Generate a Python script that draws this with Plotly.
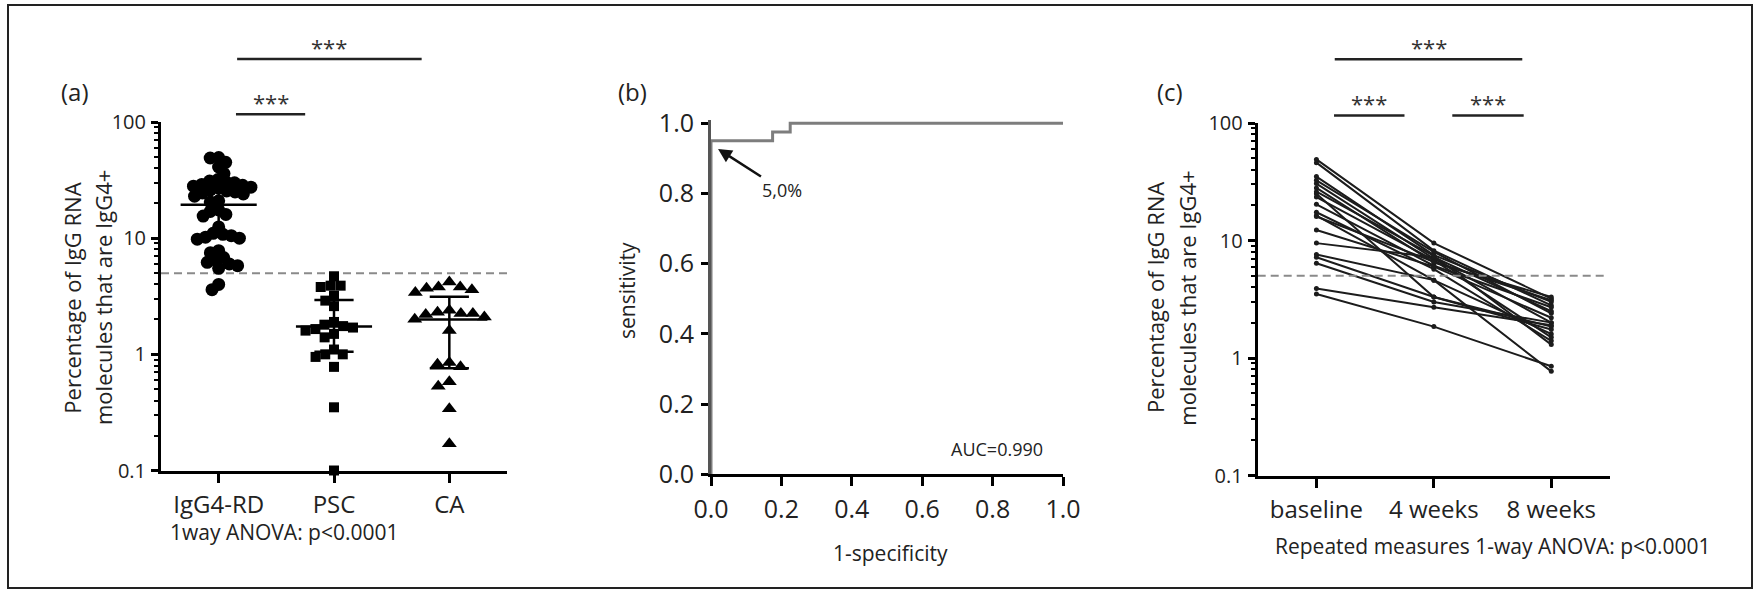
import math
import plotly.graph_objects as go

W, H = 1758, 590

# ---------------- data ----------------
groups_a = ["IgG4-RD", "PSC", "CA"]
igg4_rd = [49.5, 49, 45, 41, 36, 32, 31, 30.5, 30, 29, 28.5, 28, 27.5, 27, 26,
           25.5, 25, 24.5, 24, 23, 21, 20.5, 17.5, 17, 16, 15.5, 12.5, 11,
           10.8, 10.5, 10.2, 10, 9.8, 7.8, 7.5, 6.8, 6.5, 6.2, 6, 5.8, 5.5, 4.0, 3.6]
psc = [4.7, 3.9, 3.8, 3.9, 3.2, 2.9, 2.6, 1.9, 1.8, 1.75, 1.7, 1.65, 1.6, 1.5,
       1.4, 1.1, 1.0, 1.0, 0.95, 0.78, 0.35, 0.1]
ca = [4.2, 3.6, 3.8, 3.7, 3.8, 3.4, 2.3, 2.25, 2.1, 2.4, 2.0, 2.2, 2.25, 1.6,
      0.78, 0.85, 0.82, 0.58, 0.53, 0.34, 0.17]
medians_a = [19.4, 1.74, 1.99]
q1_a = [10.3, 1.05, 0.76]
q3_a = [28.4, 2.94, 3.13]
cutoff = 5.0

roc_fpr = [0, 0, 0.175, 0.175, 0.225, 0.225, 1.0]
roc_tpr = [0, 0.95, 0.95, 0.975, 0.975, 1.0, 1.0]
auc_text = "AUC=0.990"

timepoints = ["baseline", "4 weeks", "8 weeks"]
baseline = [49, 46, 35, 32.5, 30.5, 28, 25, 23.4, 20.3, 17.4, 16.3, 12.3, 9.5,
            7.6, 7.2, 6.4, 3.9, 3.5, 26, 16]
week4 = [9.5, 8.2, 7.5, 8.0, 7.0, 6.5, 3.3, 6.8, 6.1, 5.7, 4.6, 6.0, 7.2, 4.6,
         3.3, 3.0, 2.7, 1.85, 7.4, 6.6]
week8 = [3.2, 2.8, 3.0, 2.4, 2.0, 3.3, 1.75, 1.5, 2.7, 1.4, 0.77, 2.2, 2.5, 1.6,
         1.85, 2.0, 1.9, 0.85, 1.3, 3.1]

FONT = "Open Sans"
TXT = "#222222"

# ---------------- layout geometry (pixels) ----------------
def px_x(p):
    return p / W

def px_y(p):
    return (H - p) / H

A_X = (161, 507); A_Y = (470.5, 122)
B_X = (711, 1063); B_Y = (474.3, 119.8)
C_X = (1257.7, 1610); C_Y = (475.5, 123)

a_xscale = (A_X[1] - A_X[0]) / 3.0
a_yscale = (A_Y[0] - A_Y[1]) / 3.0


def swarm(vals, d):
    placed = []
    xs = [0.0] * len(vals)
    order = sorted(range(len(vals)), key=lambda i: -vals[i])
    for i in order:
        y = math.log10(vals[i]) * a_yscale
        cands = [0.0]
        for (px, py) in placed:
            dy = abs(py - y)
            if dy < d:
                dx = math.sqrt(d * d - dy * dy)
                cands += [px + dx, px - dx]
        cands.sort(key=lambda c: (round(abs(c), 6), c))
        for c in cands:
            if all((c - px) ** 2 + (y - py) ** 2 >= d * d - 1e-6 for px, py in placed):
                xs[i] = c
                placed.append((c, y))
                break
    return [x / a_xscale for x in xs]


fig = go.Figure()

# ---------- panel (a) ----------
fig.add_trace(go.Scatter(x=[-0.5, 2.5], y=[cutoff, cutoff], mode="lines",
                         line=dict(color="#8a8a8a", width=2, dash="8px,5px"),
                         xaxis="x", yaxis="y", hoverinfo="skip"))
sets = [(igg4_rd, "circle", 13, 8.5), (psc, "square", 10, 10.0), (ca, "triangle-up", 13, 12.0)]
for gi, (vals, sym, size, d) in enumerate(sets):
    offs = swarm(vals, d)
    fig.add_trace(go.Scatter(x=[gi + o for o in offs], y=vals, mode="markers",
                             marker=dict(symbol=sym, size=size, color="black", line=dict(width=0)),
                             cliponaxis=False, xaxis="x", yaxis="y"))
mx, my = [], []
for gi in range(3):
    mx += [gi - 0.33, gi + 0.33, None, gi, gi, None,
           gi - 0.17, gi + 0.17, None, gi - 0.17, gi + 0.17, None]
    my += [medians_a[gi], medians_a[gi], None, q1_a[gi], q3_a[gi], None,
           q1_a[gi], q1_a[gi], None, q3_a[gi], q3_a[gi], None]
fig.add_trace(go.Scatter(x=mx, y=my, mode="lines", line=dict(color="black", width=2.5),
                         xaxis="x", yaxis="y", hoverinfo="skip"))

# ---------- panel (b) ----------
fig.add_trace(go.Scatter(x=roc_fpr, y=roc_tpr, mode="lines",
                         line=dict(color="#7d7d7d", width=3),
                         xaxis="x2", yaxis="y2"))

# ---------- panel (c) ----------
for b, w4, w8 in zip(baseline, week4, week8):
    fig.add_trace(go.Scatter(x=[0, 1, 2], y=[b, w4, w8], mode="lines+markers",
                             line=dict(color="#1c1c1c", width=2),
                             marker=dict(size=5, color="#1c1c1c"),
                             xaxis="x3", yaxis="y3"))
fig.add_trace(go.Scatter(x=[-0.5, 2.48], y=[cutoff, cutoff], mode="lines",
                         line=dict(color="#8a8a8a", width=2, dash="8px,5px"),
                         xaxis="x3", yaxis="y3", hoverinfo="skip"))

# ---------- axes ----------
axis_common = dict(showline=True, linecolor="black", linewidth=3, ticks="outside",
                   tickcolor="black", tickwidth=3, showgrid=False, zeroline=False,
                   mirror=False, automargin=False)
minor_vals = [m * 10 ** e for e in (-1, 0, 1) for m in range(2, 10)]
log_y = dict(axis_common, type="log", range=[-1, 2],
             tickmode="array", tickvals=[0.1, 1, 10, 100], ticktext=["0.1", "1", "10", "100"],
             ticklen=7, ticklabelstandoff=1,
             tickfont=dict(family=FONT, size=20, color=TXT),
             minor=dict(tickmode="array", tickvals=minor_vals, ticks="outside",
                        ticklen=4, tickwidth=2, tickcolor="black", showgrid=False))

fig.update_layout(
    template="none",
    width=W, height=H, margin=dict(l=0, r=0, t=0, b=0, pad=0), autosize=False,
    paper_bgcolor="white", plot_bgcolor="white", showlegend=False,
    font=dict(family=FONT, color=TXT),
    xaxis=dict(axis_common, domain=[px_x(A_X[0]), px_x(A_X[1])], anchor="y",
               range=[-0.5, 2.5], tickmode="array", tickvals=[0, 1, 2], ticktext=groups_a,
               ticklen=9, ticklabelstandoff=2, tickfont=dict(family=FONT, size=24, color=TXT)),
    yaxis=dict(log_y, domain=[px_y(A_Y[0]), px_y(A_Y[1])], anchor="x"),
    xaxis2=dict(axis_common, domain=[px_x(B_X[0]), px_x(B_X[1])], anchor="y2",
                range=[0, 1], tickmode="array", tickvals=[0, 0.2, 0.4, 0.6, 0.8, 1.0],
                ticktext=["0.0", "0.2", "0.4", "0.6", "0.8", "1.0"], ticklen=9,
                ticklabelstandoff=2, tickfont=dict(family=FONT, size=25, color=TXT)),
    yaxis2=dict(axis_common, domain=[px_y(B_Y[0]), px_y(B_Y[1])], anchor="x2",
                range=[0, 1.01], tickmode="array", tickvals=[0, 0.2, 0.4, 0.6, 0.8, 1.0],
                ticktext=["0.0", "0.2", "0.4", "0.6", "0.8", "1.0"], ticklen=7,
                linecolor="#555555", ticklabelstandoff=2,
                tickfont=dict(family=FONT, size=25, color=TXT)),
    xaxis3=dict(axis_common, domain=[px_x(C_X[0]), px_x(C_X[1])], anchor="y3",
                range=[-0.5, 2.5], tickmode="array", tickvals=[0, 1, 2], ticktext=timepoints,
                ticklen=9, ticklabelstandoff=2, tickfont=dict(family=FONT, size=24, color=TXT)),
    yaxis3=dict(log_y, domain=[px_y(C_Y[0]), px_y(C_Y[1])], anchor="x3"),
)

# ---------- significance bars ----------
def sig(xref, yref, x0, x1, ybar, ystar):
    fig.add_shape(type="line", xref=xref, yref=yref, x0=x0, x1=x1, y0=ybar, y1=ybar,
                  line=dict(color="#222222", width=2.5))
    fig.add_annotation(xref=xref, yref=yref, x=(x0 + x1) / 2, y=ystar, text="***",
                       showarrow=False, font=dict(family=FONT, size=22, color="#333333"),
                       xanchor="center", yanchor="middle")

sig("x", "y domain", 0.16, 1.76, 1.181, 1.215)
sig("x", "y domain", 0.15, 0.75, 1.022, 1.058)
sig("x3", "y3 domain", 0.156, 1.753, 1.181, 1.215)
sig("x3", "y3 domain", 0.15, 0.75, 1.021, 1.057)
sig("x3", "y3 domain", 1.157, 1.765, 1.021, 1.057)

# ---------- text ----------
def ptext(text, x, y, size, angle=0):
    fig.add_annotation(xref="paper", yref="paper", x=px_x(x), y=px_y(y), text=text,
                       showarrow=False, textangle=angle, xanchor="center", yanchor="middle",
                       font=dict(family=FONT, size=size, color=TXT))

ptext("(a)", 75, 92, 24)
ptext("(b)", 632, 92, 24)
ptext("(c)", 1170, 92, 24)
ptext("Percentage of IgG RNA", 71.7, 298, 22, -90)
ptext("molecules that are IgG4+", 103, 298, 22, -90)
ptext("Percentage of IgG RNA", 1155, 298, 22, -90)
ptext("molecules that are IgG4+", 1186.7, 298, 22, -90)
ptext("sensitivity", 627, 291, 21, -90)
ptext("1-specificity", 890, 553, 21)
ptext("1way ANOVA: p<0.0001", 284, 532, 21)
ptext("Repeated measures 1-way ANOVA: p<0.0001", 1493, 546, 21)

fig.add_annotation(xref="x2", yref="y2", x=0.02, y=0.927, ax=64, ay=41,
                   text="5,0%", showarrow=True, arrowhead=2, arrowsize=1.1,
                   arrowwidth=2.5, arrowcolor="#111111", standoff=0,
                   font=dict(family=FONT, size=18, color=TXT))
fig.add_annotation(xref="x2", yref="y2", x=0.812, y=0.072, text=auc_text, showarrow=False,
                   font=dict(family=FONT, size=18, color=TXT), xanchor="center", yanchor="middle")

fig.add_shape(type="rect", xref="paper", yref="paper", x0=px_x(8), x1=px_x(1752),
              y0=px_y(588), y1=px_y(5), line=dict(color="#222222", width=2))

fig.write_html("out.html",
               post_script="document.body.style.margin='0px';document.body.style.overflow='hidden';")
